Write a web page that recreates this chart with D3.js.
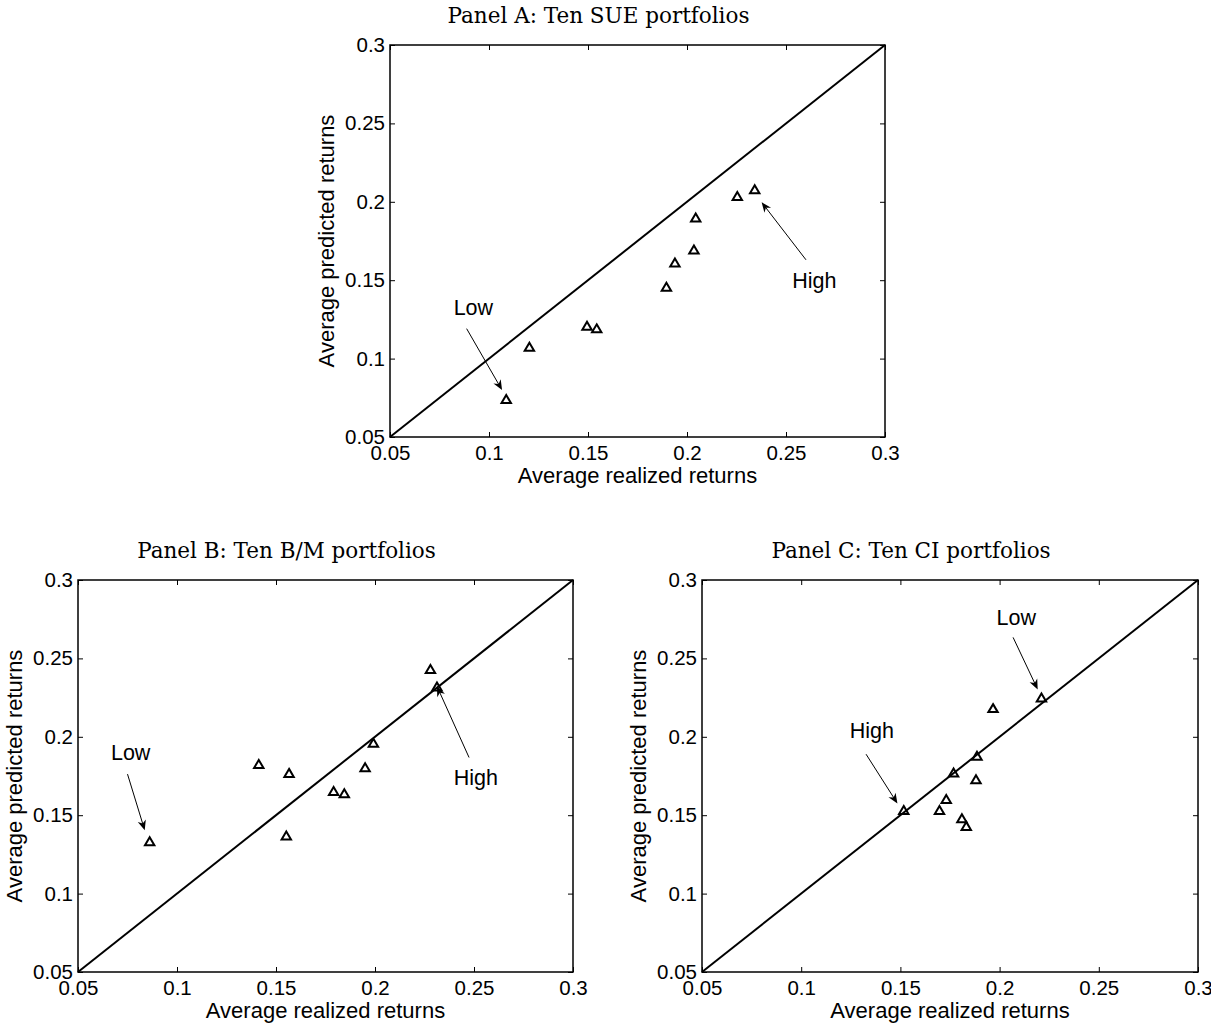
<!DOCTYPE html>
<html>
  <head>
    <meta charset="utf-8" />
    <title>Average predicted vs realized returns</title>
    <script src="https://d3js.org/d3.v7.min.js"></script>
    <style>
      body {
        margin: 0;
        background: #fff;
      }
      text {
        font-family: "Liberation Sans", Arial, sans-serif;
        fill: #000;
      }
      .title {
        font-family: "DejaVu Serif", serif;
        font-size: 21.5px;
      }
      .axis-label {
        font-size: 22px;
      }
      .note {
        font-size: 21.5px;
      }
      .frame {
        fill: none;
        stroke: #000;
        stroke-width: 1.5px;
      }
      .diag {
        stroke: #000;
        stroke-width: 2px;
      }
      .marker {
        fill: none;
        stroke: #000;
        stroke-width: 2px;
      }
      .arrow-line {
        stroke: #000;
        stroke-width: 1px;
      }
    </style>
  </head>
  <body>
    <svg width="1211" height="1027"></svg>
    <script>
      // ---- data ----
      const ticks = [0.05, 0.1, 0.15, 0.2, 0.25, 0.3];
      const tickLabels = ["0.05", "0.1", "0.15", "0.2", "0.25", "0.3"];
      const diagonal = [0.05, 0.3];

      // Panel A: SUE portfolios
      const sueRealized = [0.1087, 0.1204, 0.1495, 0.1544, 0.1896, 0.1939, 0.2035, 0.2044, 0.2254, 0.2342];
      const suePredicted = [0.074, 0.1074, 0.1208, 0.1191, 0.1456, 0.1611, 0.1694, 0.1898, 0.2035, 0.2078];
      // Panel B: B/M portfolios
      const bmRealized = [0.0862, 0.1413, 0.1566, 0.1552, 0.1791, 0.1845, 0.195, 0.1992, 0.228, 0.2313];
      const bmPredicted = [0.1332, 0.1825, 0.1768, 0.1368, 0.1653, 0.1638, 0.1804, 0.196, 0.243, 0.2319];
      // Panel C: CI portfolios
      const ciRealized = [0.2211, 0.1967, 0.1886, 0.1768, 0.1881, 0.1731, 0.1517, 0.1697, 0.181, 0.1832];
      const ciPredicted = [0.2249, 0.2181, 0.1877, 0.177, 0.1728, 0.1602, 0.1532, 0.1532, 0.1479, 0.143];

      // annotations: label, text centre, arrow tail, arrow head (data units)
      const noteLabels = ["Low", "High"];
      const sueNoteText = [[0.0921, 0.1329], [0.2643, 0.1503]];
      const sueArrowFrom = [[0.0887, 0.1191], [0.2601, 0.163]];
      const sueArrowTo = [[0.1066, 0.0799], [0.2377, 0.1997]];
      const bmNoteText = [[0.0766, 0.1904], [0.2509, 0.1744]];
      const bmArrowFrom = [[0.075, 0.1762], [0.2475, 0.1868]];
      const bmArrowTo = [[0.0837, 0.1404], [0.2313, 0.2322]];
      const ciNoteText = [[0.2084, 0.2765], [0.1356, 0.2042]];
      const ciArrowFrom = [[0.2068, 0.2634], [0.1327, 0.1889]];
      const ciArrowTo = [[0.2192, 0.2302], [0.1485, 0.1575]];

      const svg = d3.select("svg");

      const panels = [
        {
          title: "Panel A: Ten SUE portfolios",
          left: 390, top: 45, width: 495, height: 392,
          xs: sueRealized, ys: suePredicted,
          noteText: sueNoteText, from: sueArrowFrom, to: sueArrowTo,
        },
        {
          title: "Panel B: Ten B/M portfolios",
          left: 78, top: 580, width: 495, height: 392,
          xs: bmRealized, ys: bmPredicted,
          noteText: bmNoteText, from: bmArrowFrom, to: bmArrowTo,
        },
        {
          title: "Panel C: Ten CI portfolios",
          left: 702, top: 580, width: 496, height: 392,
          xs: ciRealized, ys: ciPredicted,
          noteText: ciNoteText, from: ciArrowFrom, to: ciArrowTo,
        },
      ];

      panels.forEach(drawPanel);

      function drawPanel(p) {
        const x = d3.scaleLinear().domain([0.05, 0.3]).range([0, p.width]);
        const y = d3.scaleLinear().domain([0.05, 0.3]).range([p.height, 0]);
        const g = svg.append("g").attr("transform", `translate(${p.left},${p.top})`);

        // title (centred a bit left of the axes, like the original caption)
        g.append("text")
          .attr("class", "title")
          .attr("x", p.width / 2 - 39)
          .attr("y", -22)
          .attr("text-anchor", "middle")
          .text(p.title);

        // inner ticks on all four sides
        const tickLen = 5;
        const fmt = (d) => tickLabels[ticks.indexOf(d)];
        g.append("g")
          .attr("transform", `translate(0,${p.height})`)
          .call(d3.axisBottom(x).tickValues(ticks).tickSize(-tickLen).tickFormat(fmt).tickPadding(8))
          .call(styleAxis);
        g.append("g")
          .call(d3.axisTop(x).tickValues(ticks).tickSize(-tickLen).tickFormat(""))
          .call(styleAxis);
        g.append("g")
          .call(d3.axisLeft(y).tickValues(ticks).tickSize(-tickLen).tickFormat(fmt).tickPadding(5))
          .call(styleAxis);
        g.append("g")
          .attr("transform", `translate(${p.width},0)`)
          .call(d3.axisRight(y).tickValues(ticks).tickSize(-tickLen).tickFormat(""))
          .call(styleAxis);

        g.append("rect")
          .attr("class", "frame")
          .attr("width", p.width)
          .attr("height", p.height);

        // 45-degree line
        g.append("line")
          .attr("class", "diag")
          .attr("x1", x(diagonal[0]))
          .attr("y1", y(diagonal[0]))
          .attr("x2", x(diagonal[1]))
          .attr("y2", y(diagonal[1]));

        // triangle markers
        g.selectAll(".marker")
          .data(p.xs.map((d, i) => [d, p.ys[i]]))
          .enter()
          .append("path")
          .attr("class", "marker")
          .attr("d", "M0,-4.3L4.7,3.7L-4.7,3.7Z")
          .attr("transform", (d) => `translate(${x(d[0])},${y(d[1])})`);

        // annotations
        noteLabels.forEach((label, i) => {
          const [tx, ty] = p.noteText[i];
          g.append("text")
            .attr("class", "note")
            .attr("x", x(tx))
            .attr("y", y(ty) + 8)
            .attr("text-anchor", "middle")
            .text(label);

          const x1 = x(p.from[i][0]), y1 = y(p.from[i][1]);
          const x2 = x(p.to[i][0]), y2 = y(p.to[i][1]);
          const a = Math.atan2(y2 - y1, x2 - x1);
          g.append("line")
            .attr("class", "arrow-line")
            .attr("x1", x1)
            .attr("y1", y1)
            .attr("x2", x2 - 6 * Math.cos(a))
            .attr("y2", y2 - 6 * Math.sin(a));
          g.append("path")
            .attr("d", "M0,0L-10,-4.2L-7,0L-10,4.2Z")
            .attr("fill", "#000")
            .attr("transform", `translate(${x2},${y2}) rotate(${(a * 180) / Math.PI})`);
        });

        // axis labels
        g.append("text")
          .attr("class", "axis-label")
          .attr("x", p.width / 2)
          .attr("y", p.height + 46)
          .attr("text-anchor", "middle")
          .text("Average realized returns");
        g.append("text")
          .attr("class", "axis-label")
          .attr("transform", `translate(-56,${p.height / 2}) rotate(-90)`)
          .attr("text-anchor", "middle")
          .text("Average predicted returns");
      }

      function styleAxis(sel) {
        sel.select(".domain").remove();
        sel.selectAll(".tick line").attr("stroke", "#000").attr("stroke-width", 1);
        sel.selectAll(".tick text")
          .attr("fill", "#000")
          .style("font-family", '"Liberation Sans", Arial, sans-serif')
          .style("font-size", "20.5px");
        sel.attr("font-size", null).attr("font-family", null);
      }
    </script>
  </body>
</html>
